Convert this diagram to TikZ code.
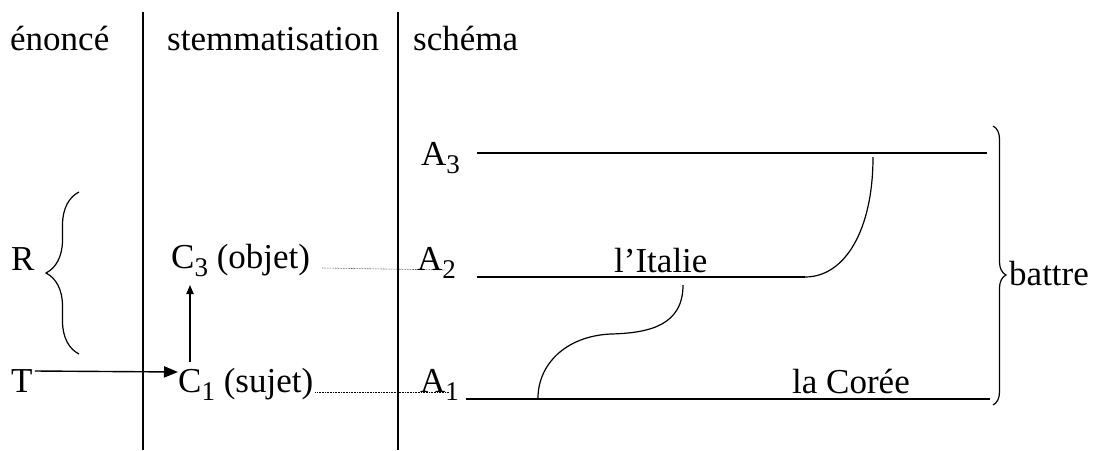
\documentclass[tikz,border=0pt]{standalone}
\usepackage{fontspec}
\setmainfont{Liberation Serif}
\usetikzlibrary{arrows.meta, decorations.pathreplacing, calc}
\newcommand{\lowidx}[1]{\raisebox{-8pt}{\fontsize{27}{27}\selectfont #1}}

\begin{document}
\begin{tikzpicture}[x=1pt, y=-1pt,
  lbl/.style={inner sep=0pt, anchor=base west, font=\fontsize{35}{41}\selectfont},
  colrule/.style={line width=1.8pt},
  actant/.style={line width=1.4pt},
  link/.style={line width=1.2pt},
  guide/.style={densely dotted, line width=0.6pt},
  arr/.style={line width=1.4pt, -{Triangle[length=#1, width=0.8*#1]}},
  brc/.style={line width=1.2pt, decorate, decoration={brace, amplitude=#1}}
]
  \useasboundingbox (0,0) rectangle (1094,450);
  \draw[colrule] (143,12) -- (143,450);
  \draw[colrule] (398,12) -- (398,450);

  \node[lbl] (enonce) at (10,50) {énoncé};
  \node[lbl] (stemma) at (167,50) {stemmatisation};
  \node[lbl] (schema) at (413,50) {schéma};

  \node[lbl] (R) at (11,270) {R};
  \node[lbl] (T) at (11,392) {T};
  \node[lbl] (C3) at (171,268) {C\lowidx{3} (objet)};
  \node[lbl] (C1) at (178,392) {C\lowidx{1} (sujet)};
  \node[lbl] (A3) at (421,165) {A\lowidx{3}};
  \node[lbl] (A2) at (417,270) {A\lowidx{2}};
  \node[lbl] (A1) at (420,392) {A\lowidx{1}};
  \node[lbl] (italie) at (614,272) {l’Italie};
  \node[lbl] (coree) at (792,393) {la Corée};
  \node[lbl] (battre) at (1009,285) {battre};

  \coordinate (a3s) at (477,153);
  \coordinate (a3e) at (987,153);
  \coordinate (a2s) at (477,277);
  \coordinate (a2e) at (805,277);
  \coordinate (a1s) at (466,399);
  \coordinate (a1e) at (990,399);
  \draw[actant] (a3s) -- (a3e);
  \draw[actant] (a2s) -- (a2e);
  \draw[actant] (a1s) -- (a1e);

  \coordinate (k3) at (873,157);
  \coordinate (k2) at (683,285);
  \coordinate (k1) at (538,398);
  \draw[link] (k3) .. controls (873,230) and (845,277) .. (a2e);
  \draw[link] (k2) .. controls (683,325) and (650,333) .. (611,334)
                   .. controls (565,336) and (538,365) .. (k1);

  \draw[guide] ([xshift=12pt]C3.base east) -- ([xshift=28pt]A2.base west);
  \draw[guide] ([xshift=2pt]C1.base east) -- ([xshift=29pt]A1.base west);

  \draw[arr=14pt] ([xshift=2pt,yshift=21pt]T.base east) -- ([yshift=20pt]C1.base west);
  \draw[arr=9pt] ([xshift=12pt,yshift=30pt]C1.base west) -- ([xshift=19pt,yshift=-17pt]C3.base west);

  \draw[brc=33pt] (79,354) -- (79,192);
  \draw[brc=13pt, decoration={aspect=0.534}] (993,126) -- (993,405);
\end{tikzpicture}
\end{document}
